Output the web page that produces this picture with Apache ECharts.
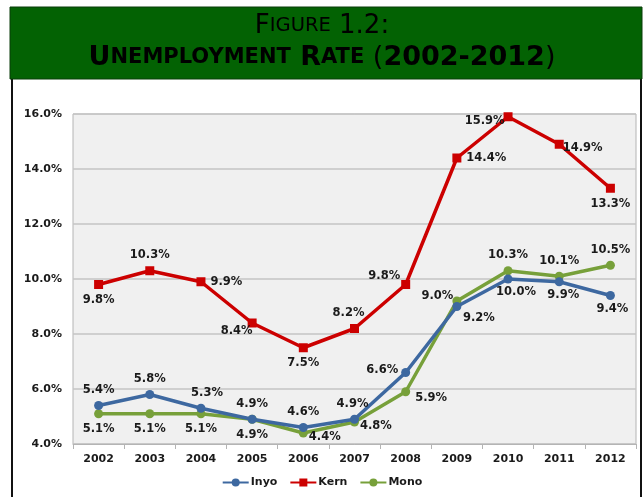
<!DOCTYPE html>
<html><head><meta charset="utf-8">
<script src="https://cdn.jsdelivr.net/npm/echarts@6/dist/echarts.min.js"></script>
<style>html,body{margin:0;padding:0;background:#fff}#c{width:644px;height:497px}</style>
</head><body><div id="c"></div>
<script>
var years = ['2002','2003','2004','2005','2006','2007','2008','2009','2010','2011','2012'];
var inyo = [5.4,5.8,5.3,4.9,4.6,4.9,6.6,9.0,10.0,9.9,9.4];
var kern = [9.8,10.3,9.9,8.4,7.5,8.2,9.8,14.4,15.9,14.9,13.3];
var mono = [5.1,5.1,5.1,4.9,4.4,4.8,5.9,9.2,10.3,10.1,10.5];
var yTicks = [4,6,8,10,12,14,16];

// label placement (style only)
var inyoPos = [['top',[0,0]],['top',[0,0]],['top',[6,0]],['top',[0,0]],['top',[0,0]],['top',[-2,0]],['left',[2,-2]],['left',[6,-10]],['bottom',[8,-2]],['bottom',[4,-2]],['bottom',[2,-2]]];
var kernPos = [['bottom',[0,0]],['top',[0,0]],['right',[0,0]],['left',[10,8]],['bottom',[0,0]],['top',[-6,0]],['left',[4,-8]],['right',[0,0]],['left',[6,4]],['right',[-6,4]],['bottom',[0,0]]];
var monoPos = [['bottom',[0,0]],['bottom',[0,0]],['bottom',[0,0]],['bottom',[0,0]],['right',[-4,4]],['right',[-4,4]],['right',[0,6]],['bottom',[22,2]],['top',[0,0]],['top',[0,0]],['top',[0,0]]];

function build(vals, pos){
  return vals.map(function(v,i){
    return {value:v, label:{position:pos[i][0], offset:pos[i][1]}};
  });
}
var labelStyle = {show:true, formatter:function(p){return p.value.toFixed(1)+'%';}, fontFamily:'DejaVu Sans', fontWeight:'bold', fontSize:11.5, color:'#1a1a1a', distance:5};

var chart = echarts.init(document.getElementById('c'), null, {renderer:'canvas'});
var F = 'DejaVu Sans';
chart.setOption({
  animation:false,
  backgroundColor:'#fff',
  graphic:[
    {type:'rect', z:-10, shape:{x:12, y:78, width:629, height:430}, style:{fill:'#fff', stroke:'#111', lineWidth:2}},
    {type:'rect', z:-9, shape:{x:10, y:7, width:632, height:72}, style:{fill:'#036203', stroke:'#0b3d0b', lineWidth:1}},
    {type:'text', left:'center', top:13, style:{
      rich:{
        big:{fontFamily:F, fontSize:26, color:'#fff'},
        sm:{fontFamily:F, fontSize:19.5, color:'#fff'}
      },
      text:'{big|F}{sm|IGURE}{big| 1.2:}'
    }},
    {type:'text', left:'center', top:44, style:{
      rich:{
        big:{fontFamily:F, fontWeight:'bold', fontSize:27, color:'#fff'},
        sm:{fontFamily:F, fontWeight:'bold', fontSize:21, color:'#fff'},
        par:{fontFamily:F, fontSize:27, color:'#fff'}
      },
      text:'{big|U}{sm|NEMPLOYMENT}{big| R}{sm|ATE}{par| (}{big|2002-2012}{par|)}'
    }}
  ],
  grid:{left:73, right:8, top:114, bottom:53, show:true, backgroundColor:'#f0f0f0', borderColor:'#b4b4b4', borderWidth:1},
  legend:{bottom:4, left:'center', itemWidth:26, itemHeight:10, itemGap:12,
    textStyle:{fontFamily:F, fontWeight:'bold', fontSize:11, color:'#1a1a1a', padding:[0,0,0,-3]},
    data:['Inyo','Kern','Mono']},
  xAxis:{type:'category', data:years, boundaryGap:true,
    axisLine:{lineStyle:{color:'#b4b4b4', width:1}},
    axisTick:{show:true, length:5, lineStyle:{color:'#b4b4b4'}},
    axisLabel:{fontFamily:F, fontWeight:'bold', fontSize:11, color:'#1a1a1a', margin:10}},
  yAxis:{type:'value', min:yTicks[0], max:yTicks[yTicks.length-1], interval:2,
    axisLine:{show:false}, axisTick:{show:false},
    splitLine:{lineStyle:{color:'#c4c4c4', width:1.5}},
    axisLabel:{fontFamily:F, fontWeight:'bold', fontSize:11, color:'#1a1a1a', margin:11,
      formatter:function(v){return v.toFixed(1)+'%';}}},
  series:[
    {name:'Inyo', type:'line', data:build(inyo,inyoPos), color:'#3d68a0', symbol:'circle', symbolSize:9,
      lineStyle:{width:3.5}, label:labelStyle, z:3},
    {name:'Kern', type:'line', data:build(kern,kernPos), color:'#cc0000', symbol:'rect', symbolSize:9,
      lineStyle:{width:3.5}, label:labelStyle, z:4},
    {name:'Mono', type:'line', data:build(mono,monoPos), color:'#77a03a', symbol:'circle', symbolSize:9,
      lineStyle:{width:3.5}, label:labelStyle, z:2}
  ]
});
</script></body></html>
